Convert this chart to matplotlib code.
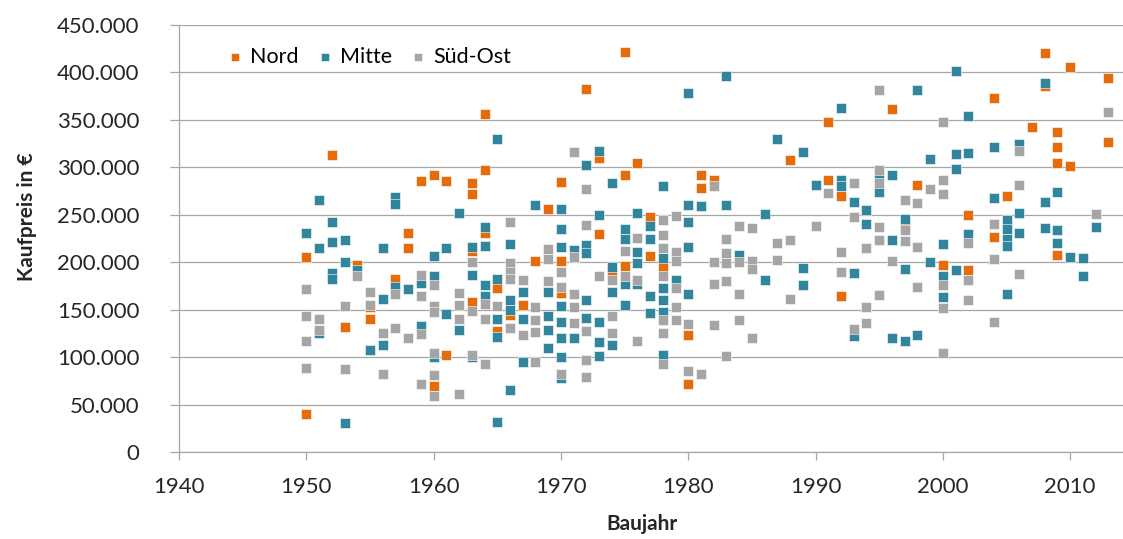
import matplotlib.pyplot as plt
from matplotlib.ticker import FuncFormatter, MultipleLocator

# Kaufpreise in Tsd. Euro, gruppiert nach Baujahr
nord = {
    1950: [205, 40], 1952: [313], 1953: [132], 1954: [197], 1955: [153, 140],
    1957: [182], 1958: [231, 215], 1959: [286], 1960: [292, 70], 1961: [286, 102],
    1963: [283, 272, 212, 158], 1964: [356, 297, 231], 1965: [173, 128],
    1966: [144], 1967: [155], 1968: [201], 1969: [256], 1970: [285, 201, 168],
    1972: [383], 1973: [310, 230], 1974: [190], 1975: [422, 292, 196],
    1976: [305], 1977: [248, 207], 1978: [195], 1980: [123, 72],
    1981: [292, 278], 1982: [287], 1988: [308], 1991: [348, 287],
    1992: [270, 164], 1996: [362], 1997: [238], 1998: [281], 2000: [197],
    2002: [250, 192], 2004: [373, 227], 2005: [270], 2007: [343],
    2008: [421, 386], 2009: [337, 321, 305, 208], 2010: [406, 301],
    2013: [394, 327],
}

mitte = {
    1950: [231], 1951: [266, 215, 125], 1952: [242, 221, 189, 182],
    1953: [223, 200, 31], 1954: [192], 1955: [108], 1956: [215, 161, 113],
    1957: [269, 261, 174], 1958: [172], 1959: [178, 133], 1960: [207, 186, 100],
    1961: [215, 145], 1962: [252, 129], 1963: [216, 187, 100],
    1964: [237, 217, 176, 164], 1965: [330, 182, 140, 121, 32],
    1966: [219, 160, 150, 65], 1967: [169, 140, 95], 1968: [260],
    1969: [169, 143, 129, 110], 1970: [256, 235, 216, 154, 137, 120, 100, 78],
    1971: [213, 120], 1972: [302, 218, 210, 160, 141],
    1973: [317, 250, 137, 116, 101], 1974: [283, 195, 169, 113],
    1975: [235, 225, 177, 155], 1976: [252, 211, 199, 177],
    1977: [238, 224, 164, 146], 1978: [280, 204, 173, 160, 148, 102],
    1979: [181], 1980: [378, 260, 242, 216, 166], 1981: [259], 1983: [396, 260],
    1984: [208], 1986: [251, 181], 1987: [330], 1989: [316, 194, 176],
    1990: [281], 1992: [363, 287, 280], 1993: [263, 189, 122], 1994: [255, 240],
    1995: [290, 274], 1996: [292, 223, 120], 1997: [246, 193, 117],
    1998: [381, 123], 1999: [309, 200], 2000: [219, 185, 163],
    2001: [401, 314, 298, 192], 2002: [354, 315, 230], 2004: [321, 268],
    2005: [245, 235, 225, 217, 167], 2006: [325, 252, 231],
    2008: [389, 263, 236], 2009: [274, 234, 220], 2010: [205],
    2011: [204, 185], 2012: [237],
}

sued_ost = {
    1950: [172, 143, 117, 89], 1951: [140, 129], 1953: [154, 87], 1954: [185],
    1955: [169, 155], 1956: [125, 82], 1957: [166, 131], 1958: [120],
    1959: [187, 164, 124, 72], 1960: [176, 154, 148, 104, 81, 59],
    1962: [168, 155, 140, 61], 1963: [200, 149, 102], 1964: [156, 140, 93],
    1965: [154], 1966: [242, 199, 190, 182, 131], 1967: [181, 123],
    1968: [153, 139, 126, 95], 1969: [214, 203, 180], 1970: [190, 174, 82],
    1971: [316, 205, 167, 153, 136], 1972: [277, 239, 127, 97, 79],
    1973: [185], 1974: [181, 143, 125], 1975: [212, 185], 1976: [226, 181, 117],
    1978: [245, 229, 215, 185, 139, 125, 93], 1979: [249, 211, 201, 173, 153, 139],
    1980: [135, 85], 1981: [82], 1982: [280, 200, 177, 134],
    1983: [225, 210, 199, 180, 101], 1984: [238, 200, 166, 139],
    1985: [236, 201, 193, 120], 1987: [220, 202], 1988: [223, 161], 1990: [238],
    1991: [273], 1992: [211, 190], 1993: [283, 248, 130], 1994: [215, 153, 136],
    1995: [381, 297, 283, 237, 223, 165], 1996: [201], 1997: [266, 234, 222],
    1998: [262, 216, 174], 1999: [277], 2000: [348, 287, 272, 176, 152, 104],
    2002: [220, 181, 160], 2004: [240, 203, 137], 2006: [317, 281, 188],
    2012: [251], 2013: [358],
}

regionen = ["Nord", "Mitte", "Süd-Ost"]
farben = ["#E46C0A", "#31859C", "#A5A5A5"]


def flatten(daten):
    jahre, preise = [], []
    for jahr, werte in daten.items():
        for w in werte:
            jahre.append(jahr)
            preise.append(w * 1000)
    return jahre, preise


plt.rcParams["font.family"] = ["Lato", "DejaVu Sans"]

fig = plt.figure(figsize=(11.23, 5.39), dpi=100)
ax = fig.add_axes([179 / 1123, 87 / 539, 944 / 1123, 427 / 539])

for name, daten, farbe in zip(regionen, [nord, mitte, sued_ost], farben):
    x, y = flatten(daten)
    ax.scatter(x, y, marker="s", s=58, color=farbe, edgecolors="white",
               linewidths=0.4, label=name, zorder=3)

ax.set_xlim(1940, 2014.15)
ax.set_ylim(0, 450000)
ax.xaxis.set_major_locator(MultipleLocator(10))
ax.yaxis.set_major_locator(MultipleLocator(50000))
ax.yaxis.set_major_formatter(FuncFormatter(lambda v, p: f"{v:,.0f}".replace(",", ".")))

ax.grid(axis="y", color="#A6A6A6", linewidth=0.9)
ax.set_axisbelow(True)
for s in ["top", "right"]:
    ax.spines[s].set_visible(False)
for s in ["left", "bottom"]:
    ax.spines[s].set_color("#A6A6A6")
    ax.spines[s].set_linewidth(0.9)

ax.tick_params(axis="x", length=6, width=0.9, color="#A6A6A6", labelsize=16,
               labelcolor="#262626", pad=12)
ax.tick_params(axis="y", length=6.5, width=0.9, color="#A6A6A6", labelsize=16,
               labelcolor="#262626", pad=22)

ax.set_xlabel("Baujahr", fontsize=15, fontweight="bold", color="#262626")
ax.set_ylabel("Kaufpreis in €", fontsize=15, fontweight="bold", color="#262626")
ax.xaxis.set_label_coords(0.49, -0.145)
ax.yaxis.set_label_coords(-0.15, 0.55)

ax.legend(loc="upper left", bbox_to_anchor=(0.03, 0.995), ncol=3, frameon=False,
          fontsize=15.5, handletextpad=0.3, columnspacing=0.8, markerscale=0.85,
          handlelength=0.8)

fig.savefig("out.png", dpi=100)
